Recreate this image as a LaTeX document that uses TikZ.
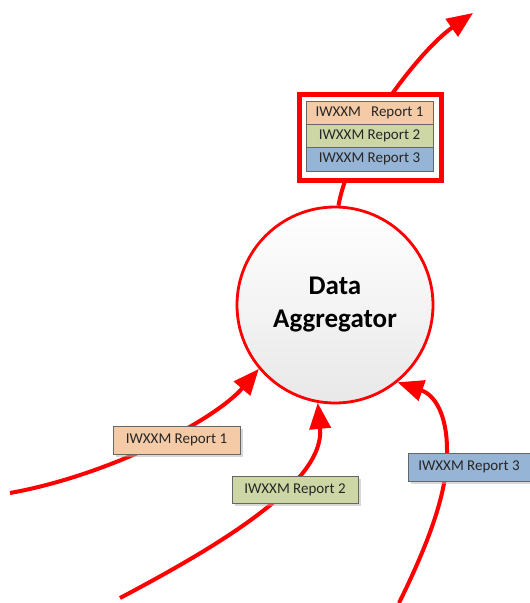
\documentclass[tikz,border=0pt]{standalone}
\usepackage{fontspec}
\setmainfont{Carlito}
\usetikzlibrary{arrows.meta,shadows}
\definecolor{repa}{HTML}{F5CBA7}
\definecolor{repb}{HTML}{CDD7A6}
\definecolor{repc}{HTML}{96B4D6}
\definecolor{txt}{HTML}{262626}
\begin{document}
\begin{tikzpicture}[x=1pt, y=-1pt,
		every node/.style={text=txt, font=\fontsize{15}{18}\selectfont},
		rep/.style={draw=black!60, line width=0.8pt, minimum width=127pt, minimum height=28pt, inner sep=0pt,
			drop shadow={shadow xshift=2.5pt, shadow yshift=-2.5pt, fill=black!30, opacity=0.5}},
		row/.style={draw=black!60, line width=0.8pt, minimum width=127pt, minimum height=23.3pt, inner sep=0pt},
		flow/.style={draw=red, line width=4pt, -{Triangle[length=26pt, width=21pt]}}]
			\useasboundingbox (0, 0) rectangle (530, 603);

			\node[circle, draw=red, line width=2.8pt, minimum size=196pt, top color=white, bottom color=black!9,
				align=center, font=\bfseries\fontsize{27}{33}\selectfont, text=black] (agg) at (335, 305) {Data\\Aggregator};

			\coordinate (s1) at (10, 493);
			\coordinate (s2) at (120, 598);
			\coordinate (s3) at (399, 603);
			\coordinate (out) at (473, 13);

			\draw[flow] (s1) .. controls (110, 475) and (215, 420) .. (agg.220);
			\draw[flow] (s2) .. controls (230, 540) and (325, 480) .. (agg.260);
			\draw[flow] (s3) .. controls (430, 540) and (448, 490) .. (447, 450)
				.. controls (447, 415) and (435, 395) .. (agg.309);
			\draw[flow] (agg.88) .. controls (350, 140) and (420, 50) .. (out);

			\node[rep, fill=repa] (r1) at (176.5, 440) {IWXXM Report 1};
			\node[rep, fill=repb, minimum width=126pt, minimum height=27pt] (r2) at (295, 489.5) {IWXXM Report 2};
			\node[rep, fill=repc, minimum width=122pt] (r3) at (469, 467) {IWXXM Report 3};

			\node[draw=red, line width=5pt, fill=white, minimum width=142pt, minimum height=86pt,
				drop shadow={shadow xshift=2.5pt, shadow yshift=-2.5pt, fill=black!30, opacity=0.5}] (stack) at (370, 137) {};
			\node[row, fill=repa] (s1r) at (369.5, 112.7) {IWXXM\ \ \ Report 1};
			\node[row, fill=repb] (s2r) at (369.5, 136) {IWXXM Report 2};
			\node[row, fill=repc] (s3r) at (369.5, 159.3) {IWXXM Report 3};
		\end{tikzpicture}
\end{document}
